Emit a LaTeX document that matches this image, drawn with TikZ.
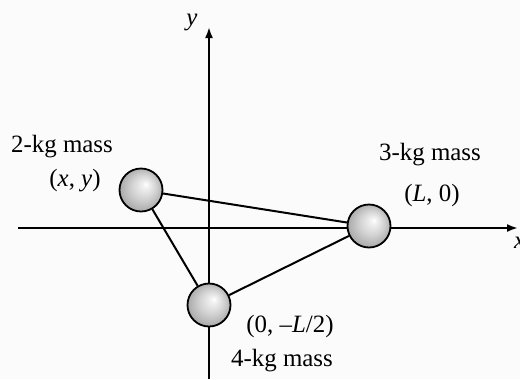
\documentclass[tikz,border=0pt]{standalone}
\usepackage{fontspec}
\setmainfont{Liberation Serif}
\usetikzlibrary{arrows.meta}
\definecolor{bgc}{RGB}{251,251,251}
\pgfdeclareradialshading{massball}{\pgfpoint{6bp}{7bp}}{%
  color(0bp)=(white);
  color(4bp)=(gray!12);
  color(14bp)=(gray!35);
  color(24bp)=(gray!62);
  color(30bp)=(gray!80)}
\begin{document}
\begin{tikzpicture}[x=1bp,y=-1bp,
  axis/.style={line width=2bp,-{Latex[length=11bp,width=8bp]}},
  rod/.style={line width=2bp},
  mass/.style={circle,minimum size=43bp,inner sep=0pt,draw=black,line width=1.8bp,shading=massball},
  lbl/.style={font=\fontsize{25}{28}\selectfont,inner sep=0pt}]
\fill[bgc] (0,0) rectangle (520,379);
\useasboundingbox (0,0) rectangle (520,379);
% axes
\coordinate (xs) at (18,228);
\coordinate (xe) at (518,228);
\coordinate (ys) at (209,379);
\coordinate (ye) at (209,27);
\draw[axis] (xs) -- (xe);
\draw[axis] (ys) -- (ye);
\node[lbl] (ylab) at (192,22) {\itshape y};
\node[lbl,anchor=west] (xlab) at (514,243) {\itshape x};
% masses
\node[mass] (m2) at (141,190) {};
\node[mass] (m3) at (369,226) {};
\node[mass] (m4) at (209,305) {};
\draw[rod] (m2) -- (m3);
\draw[rod] (m3) -- (m4);
\draw[rod] (m4) -- (m2);
% labels
\node[lbl] (t2) at (62,147) {2-kg mass};
\node[lbl] (c2) at (75,181) {(\textit{x}, \textit{y})};
\node[lbl] (t3) at (430,155) {3-kg mass};
\node[lbl] (c3) at (432,196) {(\textit{L}, 0)};
\node[lbl] (c4) at (290,326) {(0, –\textit{L}/2)};
\node[lbl] (t4) at (282,361) {4-kg mass};
\end{tikzpicture}
\end{document}
